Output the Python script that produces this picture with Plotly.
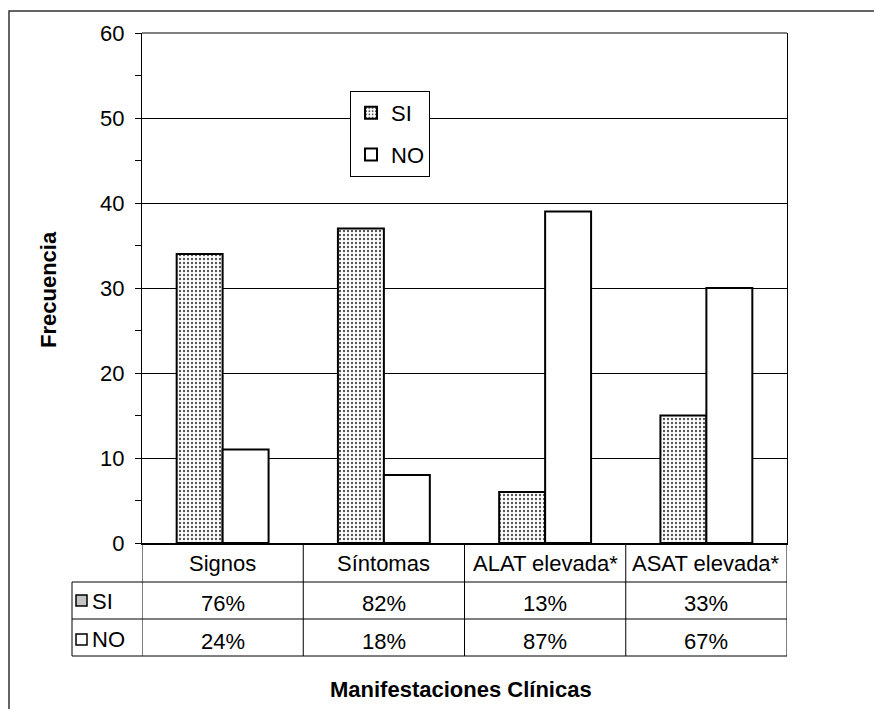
import plotly.graph_objects as go

# Frequencies of clinical manifestations
categories = ["Signos", "Síntomas", "ALAT elevada*", "ASAT elevada*"]
si_counts = [34, 37, 6, 15]
no_counts = [11, 8, 39, 30]
series_names = ["SI", "NO"]
y_ticks = [0, 10, 20, 30, 40, 50, 60]

# Percent shares shown in the data table
si_pct = [f"{round(100 * s / (s + n))}%" for s, n in zip(si_counts, no_counts)]
no_pct = [f"{round(100 * n / (s + n))}%" for s, n in zip(si_counts, no_counts)]

W, H = 874, 709
L, R, T, B = 142, 87, 33, 166
PW, PH = W - L - R, H - T - B
FONT = "Liberation Sans, Arial, sans-serif"
FS = 22


def px(x):
    """Pixel x -> paper x."""
    return (x - L) / PW


def py(y):
    """Pixel y -> paper y."""
    return (H - B - y) / PH


pattern = dict(shape=".", size=4, solidity=0.28, fgcolor="#555", bgcolor="white", fillmode="replace")

fig = go.Figure()
fig.add_trace(go.Bar(
    x=categories, y=si_counts, name=series_names[0], legendgroup="a",
    marker=dict(color="white", pattern=pattern, line=dict(color="black", width=2)),
))
fig.add_trace(go.Bar(
    x=categories, y=no_counts, name=series_names[1], legendgroup="b",
    marker=dict(color="white", line=dict(color="black", width=2)),
))

shapes = []
line_k = dict(color="black", width=1)

# outer chart frame
shapes.append(dict(type="rect", xref="paper", yref="paper",
                   x0=px(9), x1=px(876), y0=py(11), y1=py(720),
                   line=dict(color="#333", width=1.5), layer="below"))
# top border of plot area
shapes.append(dict(type="line", xref="paper", yref="paper",
                   x0=0, x1=1, y0=1, y1=1, line=line_k))

# data table grid
for yy in [582, 619, 656]:
    shapes.append(dict(type="line", xref="paper", yref="paper",
                       x0=px(72), x1=1, y0=py(yy), y1=py(yy), line=line_k))
# vertical column separators
for k in range(len(categories) + 1):
    shapes.append(dict(type="line", xref="x", yref="paper",
                       x0=k - 0.5, x1=k - 0.5, y0=py(543), y1=py(656), line=line_k))
shapes.append(dict(type="line", xref="paper", yref="paper",
                   x0=px(72), x1=px(72), y0=py(582), y1=py(656), line=line_k))

# legend keys inside the table
shapes.append(dict(type="rect", xref="paper", yref="paper",
                   x0=px(76), x1=px(87), y0=py(595), y1=py(606),
                   fillcolor="#c4c4c4", line=dict(color="black", width=1.5)))
shapes.append(dict(type="rect", xref="paper", yref="paper",
                   x0=px(76), x1=px(87), y0=py(634), y1=py(645),
                   fillcolor="white", line=dict(color="black", width=1.5)))

annotations = []
tfont = dict(family=FONT, size=FS, color="black")
for i, c in enumerate(categories):
    annotations.append(dict(x=i, y=py(563), xref="x", yref="paper", text=c,
                            showarrow=False, font=tfont, xanchor="center", yanchor="middle"))
    annotations.append(dict(x=i, y=py(603), xref="x", yref="paper", text=si_pct[i],
                            showarrow=False, font=tfont, xanchor="center", yanchor="middle"))
    annotations.append(dict(x=i, y=py(641), xref="x", yref="paper", text=no_pct[i],
                            showarrow=False, font=tfont, xanchor="center", yanchor="middle"))
annotations.append(dict(x=px(90), y=py(601), xref="paper", yref="paper", text=series_names[0],
                        showarrow=False, font=tfont, xanchor="left", yanchor="middle"))
annotations.append(dict(x=px(90), y=py(639), xref="paper", yref="paper", text=series_names[1],
                        showarrow=False, font=tfont, xanchor="left", yanchor="middle"))

# axis titles
annotations.append(dict(x=px(48), y=py(290), xref="paper", yref="paper", text="<b>Frecuencia</b>",
                        textangle=-90, showarrow=False, font=tfont, xanchor="center", yanchor="middle"))
annotations.append(dict(x=px(461), y=py(690), xref="paper", yref="paper",
                        text="<b>Manifestaciones Clínicas</b>",
                        showarrow=False, font=tfont, xanchor="center", yanchor="middle"))

fig.update_layout(
    width=W, height=H,
    margin=dict(l=L, r=R, t=T, b=B, autoexpand=False),
    paper_bgcolor="white", plot_bgcolor="white",
    barmode="group", bargap=0.43, bargroupgap=0,
    font=tfont,
    showlegend=True,
    legend=dict(x=px(350), y=py(91), xanchor="left", yanchor="top",
                bgcolor="white", bordercolor="black", borderwidth=1,
                tracegroupgap=10, itemwidth=30, entrywidth=58, font=tfont),
    xaxis=dict(showticklabels=False, ticks="", showgrid=False,
               showline=True, linecolor="black", linewidth=2, zeroline=False,
               range=[-0.5, len(categories) - 0.5]),
    yaxis=dict(range=[0, 60], tickvals=y_ticks, ticks="outside", ticklen=6,
               tickcolor="black", tickfont=tfont,
               showgrid=True, gridcolor="black", gridwidth=1,
               showline=True, linecolor="black", linewidth=1, mirror=True,
               zeroline=False, ticklabelstandoff=6,
               minor=dict(dtick=5, ticks="outside", ticklen=6, tickcolor="black", showgrid=False)),
    shapes=shapes,
    annotations=annotations,
)

fig.write_html("out.html")
